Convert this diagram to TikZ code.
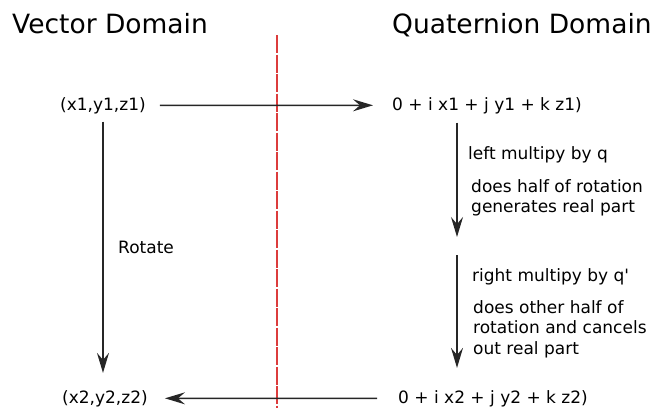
\documentclass[tikz,border=0pt]{standalone}
\usepackage{fontspec}
\setmainfont{DejaVu Sans}
\usetikzlibrary{arrows.meta}
\tikzset{
  title/.style={anchor=base west,inner sep=0pt,font=\fontsize{26.5}{30}\selectfont},
  lbl/.style={anchor=base west,inner sep=0pt,font=\fontsize{17}{20.5}\selectfont},
  note/.style={lbl,anchor=north west,align=left},
  arr/.style={draw=black!85,line width=1.5pt,-{Stealth[length=20pt,width=12pt,inset=7pt]}},
  divider/.style={draw={rgb,255:red,220;green,60;blue,60},line width=1.2pt,dash pattern=on 18pt off 1.5pt}
}
\begin{document}
\begin{tikzpicture}[x=1pt,y=-1pt]
\useasboundingbox (0,0) rectangle (660,408);
   \node[title] at (12,33)  (VD) {Vector Domain};
   \node[title] at (392,33)  (QD) {Quaternion Domain};
   \coordinate (T) at (277,35);
   \coordinate (B) at (277,408);
   \draw[divider] (T) -- (B);
   \node[lbl] at (60,110)  (V1) {(x1,y1,z1)};
   \node[lbl] at (62,403)  (V2) {(x2,y2,z2)};
   \node[lbl] at (392,110)  (Q1) {0 + i x1 + j y1 + k z1)};
   \node[lbl] at (398,403)  (Q2) {0 + i x2 + j y2 + k z2)};
   \node[lbl] at (118,253)  (R) {Rotate};
   \node[lbl] at (468,159)  (L) {left multipy by q};
   \node[note] at (471,179)  (LN) {does half of rotation\\generates real part};
   \node[lbl] at (472,281)  (RM) {right multipy by q\textquotesingle};
   \node[note] at (473,300)  (RN) {does other half of\\rotation and cancels\\out real part};
   \coordinate (M1) at (457,237);
   \coordinate (M2) at (457,255);
    \draw[arr,shorten <=14pt,shorten >=19pt] (V1.east) -- (Q1.west);
    \draw[arr,shorten <=21pt,shorten >=17pt] (Q2.west) -- (V2.east);
    \draw[arr,shorten <=8pt,shorten >=17pt] (V1.south) -- (V1.south |- V2.north);
    \draw[arr,shorten <=9pt] (M1 |- Q1.south) -- (M1);
    \draw[arr,shorten >=22pt] (M2) -- (M2 |- Q2.north);
    \end{tikzpicture}
\end{document}
